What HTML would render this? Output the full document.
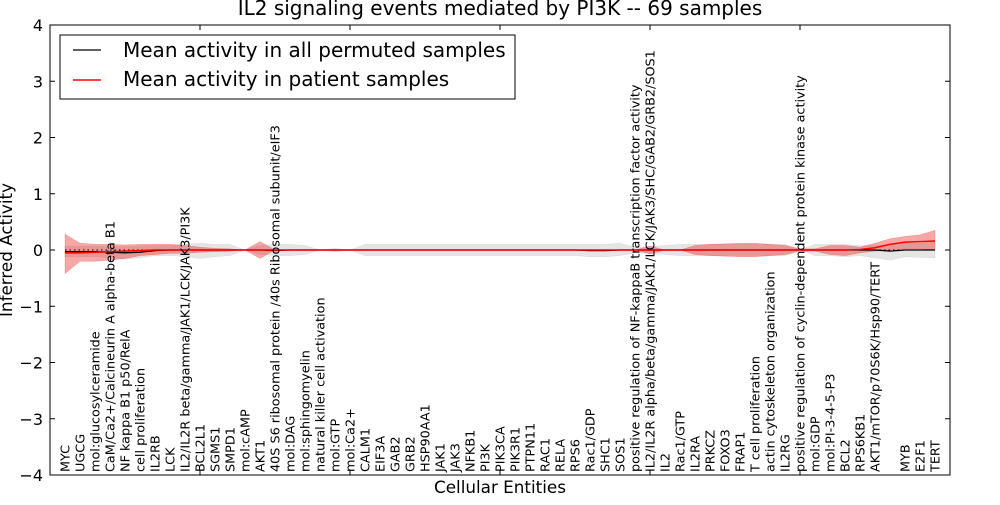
<!DOCTYPE html>
<html><head><meta charset="utf-8"><style>
body{margin:0;background:#fff;}
svg{font-family:"DejaVu Sans","Liberation Sans",sans-serif;}
</style></head><body>
<svg id="chart" width="1000" height="500" viewBox="0 0 1000 500">
<rect width="1000" height="500" fill="#fff"/>
<g id="plot"></g>
</svg>
<script>
const categories=["MYC","UGCG","mol:glucosylceramide","CaM/Ca2+/Calcineurin A alpha-beta B1","NF kappa B1 p50/RelA","cell proliferation","IL2RB","LCK","IL2/IL2R beta/gamma/JAK1/LCK/JAK3/PI3K","BCL2L1","SGMS1","SMPD1","mol:cAMP","AKT1","40S S6 ribosomal protein /40s Ribosomal subunit/eIF3","mol:DAG","mol:sphingomyelin","natural killer cell activation","mol:GTP","mol:Ca2+","CALM1","EIF3A","GAB2","GRB2","HSP90AA1","JAK1","JAK3","NFKB1","PI3K","PIK3CA","PIK3R1","PTPN11","RAC1","RELA","RPS6","Rac1/GDP","SHC1","SOS1","positive regulation of NF-kappaB transcription factor activity","IL2/IL2R alpha/beta/gamma/JAK1/LCK/JAK3/SHC/GAB2/GRB2/SOS1","IL2","Rac1/GTP","IL2RA","PRKCZ","FOXO3","FRAP1","T cell proliferation","actin cytoskeleton organization","IL2RG","positive regulation of cyclin-dependent protein kinase activity","mol:GDP","mol:PI-3-4-5-P3","BCL2","RPS6KB1","AKT1/mTOR/p70S6K/Hsp90/TERT","","MYB","E2F1","TERT"];
const permMean=[-0.03,-0.03,-0.03,-0.04,-0.05,-0.04,-0.01,0,0,0,0,0,0,0,-0.01,0,0,0,0,0,0,0,0,0,0,0,0,0,0,0,0,0,0,0,0,-0.01,-0.01,0,0,0,0,0,0,0,0,0,0,0,0,0,0,0,0,0,0,-0.02,0,0,0];
const permUpper=[0.07,0.07,0.07,0.06,0.06,0.07,0.08,0.08,0.1,0.12,0.1,0.1,0,0.08,0.1,0.1,0.08,0,0.03,0,0.1,0.1,0.1,0.1,0.1,0.1,0.1,0.1,0.1,0.1,0.1,0.1,0.1,0.1,0.1,0.1,0.1,0.12,0.05,0.06,0.08,0.1,0.1,0.1,0.1,0.1,0.1,0.1,0.1,0,0.1,0.1,0.1,0.08,0.08,0.1,0.12,0.12,0.14];
const permLower=[-0.12,-0.12,-0.12,-0.14,-0.16,-0.14,-0.1,-0.1,-0.12,-0.15,-0.12,-0.1,0,-0.08,-0.1,-0.1,-0.08,0,-0.03,0,-0.1,-0.1,-0.1,-0.1,-0.1,-0.1,-0.1,-0.1,-0.1,-0.1,-0.1,-0.1,-0.1,-0.1,-0.1,-0.12,-0.12,-0.1,-0.05,-0.06,-0.08,-0.1,-0.1,-0.1,-0.1,-0.1,-0.1,-0.1,-0.1,0,-0.1,-0.1,-0.12,-0.1,-0.14,-0.18,-0.12,-0.13,-0.14];
const patMean=[-0.05,-0.05,-0.04,-0.03,-0.02,-0.01,0,0,0,0,0,0,0,0,0,0,0,0,0,0,0,0,0,0,0,0,0,0,0,0,0,0,0,0,0,0,0,0,0,0,0,0,0,0,0,0,0,0,0,0,0,0,0,0.01,0.04,0.1,0.14,0.15,0.16];
const patUpper=[0.28,0.12,0.1,0.1,0.09,0.1,0.1,0.1,0.08,0.05,0.03,0.02,0,0.15,0,0,0,0,0,0,0,0,0,0,0,0,0,0,0,0,0,0,0,0,0,0,0,0,0,0.07,0,0,0.08,0.1,0.11,0.12,0.12,0.1,0.08,0.02,0.02,0.08,0.08,0.05,0.12,0.2,0.24,0.27,0.35];
const patLower=[-0.42,-0.2,-0.2,-0.18,-0.15,-0.1,-0.08,-0.06,-0.06,-0.04,-0.03,-0.02,0,-0.15,0,0,0,0,0,0,0,0,0,0,0,0,0,0,0,0,0,0,0,0,0,0,0,0,0,-0.07,0,0,-0.08,-0.1,-0.11,-0.12,-0.12,-0.1,-0.08,-0.02,-0.02,-0.08,-0.1,-0.05,-0.02,0,0.02,0.02,0];
const yTicks=[-4,-3,-2,-1,0,1,2,3,4];
const xTicks=[0,10,20,30,40,50,60];

const NS="http://www.w3.org/2000/svg";
const L=50,R=950,T=25,B=475;
const xs=u=>L+(R-L)*u/60;
const xi=i=>xs(i+1);
const ys=v=>T+(B-T)*(4-v)/8;
const g=document.getElementById('plot');
function mk(tag,attrs,parent){const e=document.createElementNS(NS,tag);for(const k in attrs)e.setAttribute(k,attrs[k]);(parent||g).appendChild(e);return e;}
function band(up,lo,fill,op,name){
  let d='M'+up.map((v,i)=>xi(i)+','+ys(v)).join('L');
  for(let i=lo.length-1;i>=0;i--)d+='L'+xi(i)+','+ys(lo[i]);
  const p=mk('path',{d:d+'Z',fill:fill,'fill-opacity':op,stroke:fill,'stroke-opacity':op,'stroke-width':0.5});
  
  
}
function line(vals,color,name,w){
  const p=mk('path',{d:'M'+vals.map((v,i)=>xi(i)+','+ys(v)).join('L'),fill:'none',stroke:color,'stroke-width':w});
  
  
}
band(permUpper,permLower,'#aaaaaa',0.3,'permuted-band');
band(patUpper,patLower,'#ee2222',0.4,'patient-band');
line(permMean,'#000','permuted-mean-line',1.3);
const z=mk('line',{x1:xi(0),x2:xi(categories.length-1),y1:ys(0),y2:ys(0),stroke:'#000','stroke-dasharray':'1.5,3','stroke-width':1});


line(patMean,'#ff0000','patient-mean-line',1.5);
const fr=mk('rect',{x:L,y:T,width:R-L,height:B-T,fill:'none',stroke:'#000','stroke-width':1});


yTicks.forEach(v=>{
  const y=ys(v);
  const t1=mk('line',{x1:L,x2:L+5,y1:y,y2:y,stroke:'#000'});
  
  
  const t2=mk('line',{x1:R-5,x2:R,y1:y,y2:y,stroke:'#000'});
  
  
  const tx=mk('text',{x:L-7,y:y+6,'text-anchor':'end','font-size':16});
  tx.textContent=v<0?'\u2212'+(-v):String(v);
  
  
});
xTicks.forEach(u=>{
  const x=xs(u);
  const a=mk('line',{x1:x,x2:x,y1:T,y2:T+5,stroke:'#000'});
  
  
  const b=mk('line',{x1:x,x2:x,y1:B-5,y2:B,stroke:'#000'});
  
  
});
categories.forEach((c,i)=>{
  const x=xi(i)+4.5;
  const t=mk('text',{x:x,y:472,'font-size':12.8,transform:'rotate(-90 '+x+' 472)'});
  t.textContent=c;
  
  
});
</script>
<svg width="1000" height="500" style="position:absolute;left:0;top:0">
<text x="500" y="15" text-anchor="middle" font-size="20">IL2 signaling events mediated by PI3K -- 69 samples</text>
<text x="500" y="493" text-anchor="middle" font-size="16.8">Cellular Entities</text>
<text x="12" y="250" text-anchor="middle" font-size="16.8" transform="rotate(-90 12 250)">Inferred Activity</text>
<g>
<rect x="60" y="35" width="455" height="64" fill="#fff" stroke="#000" stroke-width="1"/>
<line x1="73" x2="101" y1="50" y2="50" stroke="#000" stroke-width="1.3"/>
<text x="123" y="57" font-size="20">Mean activity in all permuted samples</text>
<line x1="73" x2="101" y1="80" y2="80" stroke="#f00" stroke-width="1.5"/>
<text x="123" y="86" font-size="20">Mean activity in patient samples</text>
</g>
</svg>
</body></html>
